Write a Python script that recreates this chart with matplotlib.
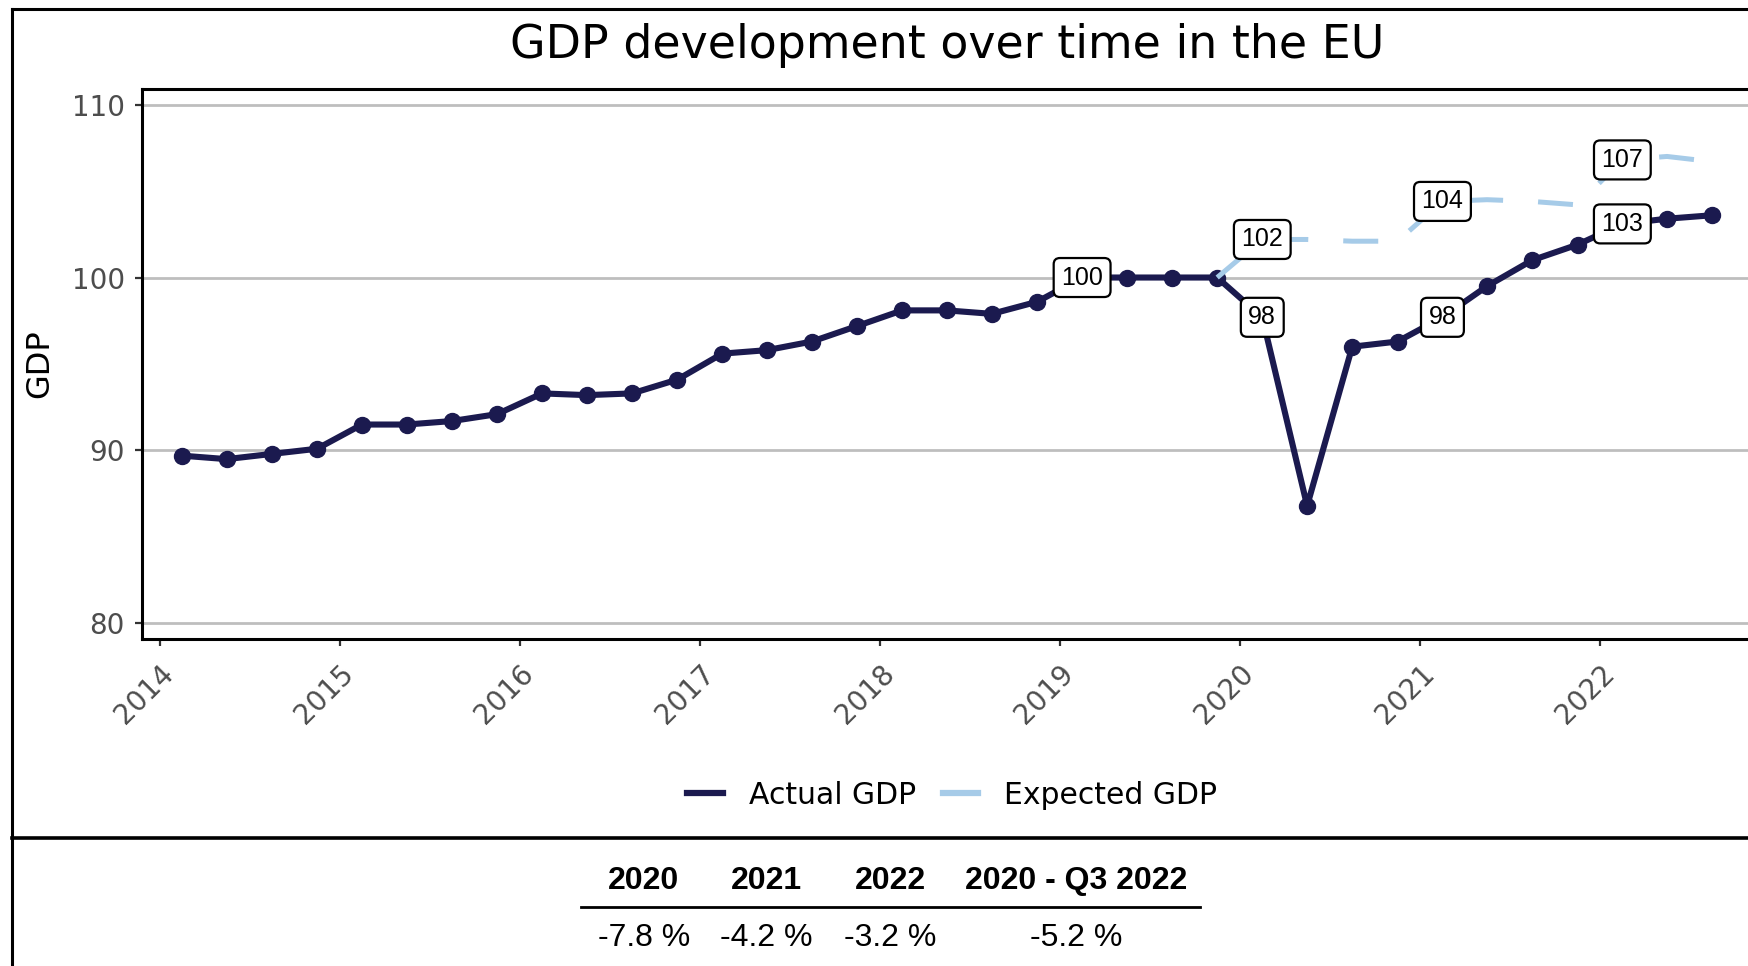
import matplotlib
matplotlib.use('Agg')
import matplotlib.pyplot as plt
import matplotlib.dates as mdates
from matplotlib.lines import Line2D
import pandas as pd

# quarterly GDP index, 2019 = 100
quarters = pd.period_range('2014Q1', '2022Q3', freq='Q')
actual_gdp = [89.7, 89.5, 89.8, 90.1,
              91.5, 91.5, 91.7, 92.1,
              93.3, 93.2, 93.3, 94.1,
              95.6, 95.8, 96.3, 97.2,
              98.1, 98.1, 97.9, 98.6,
              100.0, 100.0, 100.0, 100.0,
              97.7, 86.8, 96.0, 96.3,
              97.7, 99.5, 101.0, 101.9,
              103.1, 103.4, 103.6]
expected_start = '2019Q4'
expected_gdp = [100.0,
                102.2, 102.2, 102.1, 102.1,
                104.4, 104.5, 104.4, 104.2,
                106.8, 107.0, 106.7]
actual_labels = ['2019Q1', '2020Q1', '2021Q1', '2022Q1']
expected_labels = ['2020Q1', '2021Q1', '2022Q1']

table_headers = ['2020', '2021', '2022', '2020 - Q3 2022']
table_values = ['-7.8 %', '-4.2 %', '-3.2 %', '-5.2 %']

NAVY = '#1b1a4f'
LIGHT = '#a6cbe8'
W, H = 1749, 966

def mid(p):
    return p.start_time + (p.end_time - p.start_time) / 2

x_act = [mid(p) for p in quarters]
exp_q = pd.period_range(expected_start, periods=len(expected_gdp), freq='Q')
x_exp = [mid(p) for p in exp_q]

fig = plt.figure(figsize=(W / 100, H / 100), dpi=100)
ax = fig.add_axes([141.6 / W, 1 - 639 / H, (1752.5 - 141.6) / W, (639 - 89) / H])

ax.plot(x_act, actual_gdp, color=NAVY, lw=4.4, marker='o', ms=11.5,
        zorder=3, label='Actual GDP')
ax.plot(x_exp, expected_gdp, color=LIGHT, lw=3.6, ls=(0, (7, 7)),
        zorder=4, label='Expected GDP')

box = dict(boxstyle='round,pad=0.3,rounding_size=0.25', fc='white', ec='black', lw=1.6)
for q in actual_labels:
    i = list(quarters).index(pd.Period(q, freq='Q'))
    ax.text(x_act[i], actual_gdp[i], f'{round(actual_gdp[i])}', ha='center', va='center',
            fontsize=18, family='Liberation Sans', bbox=box, zorder=6)
for q in expected_labels:
    i = list(exp_q).index(pd.Period(q, freq='Q'))
    ax.text(x_exp[i], expected_gdp[i], f'{round(expected_gdp[i])}', ha='center', va='center',
            fontsize=18, family='Liberation Sans', bbox=box, zorder=6)

ax.set_ylim(79.1, 110.9)
ax.set_yticks([80, 90, 100, 110])
ax.set_xlim(pd.Timestamp('2013-11-25'), pd.Timestamp('2022-11-06'))
ax.xaxis.set_major_locator(mdates.YearLocator())
ax.xaxis.set_major_formatter(mdates.DateFormatter('%Y'))
ax.grid(axis='y', color='#bebebe', lw=2)
ax.set_axisbelow(True)
for s in ax.spines.values():
    s.set_linewidth(2.2)
    s.set_color('black')
ax.tick_params(length=5, width=1.6, color='#333333', labelcolor='#4d4d4d', labelsize=20)
ax.tick_params(axis='y', pad=7)
ax.tick_params(axis='x', pad=10)
for lbl in ax.get_xticklabels():
    lbl.set_rotation(45)
    lbl.set_ha('right')
    lbl.set_va('top')
    lbl.set_rotation_mode('anchor')

ax.set_ylabel('GDP', fontsize=23, labelpad=12)
fig.text(947 / W, 1 - 45 / H, 'GDP development over time in the EU', ha='center', va='center',
         fontsize=33)

fig.legend(handles=[Line2D([], [], color=NAVY, lw=4.5), Line2D([], [], color=LIGHT, lw=4.5)],
           labels=['Actual GDP', 'Expected GDP'], loc='center', bbox_to_anchor=(952 / W, 1 - 795 / H),
           ncol=2, frameon=False, fontsize=21.5, handlelength=1.2, columnspacing=0.9, handletextpad=0.85)

# frame around the chart panel and the summary table below it
def px_line(x0, y0, x1, y1, lw):
    fig.add_artist(Line2D([x0 / W, x1 / W], [1 - y0 / H, 1 - y1 / H], color='black', lw=lw,
                          transform=fig.transFigure, solid_capstyle='projecting'))

px_line(12, 9, W + 5, 9, 2.2)
px_line(12, 9, 12, H + 5, 2.2)
px_line(12, 838, W + 5, 838, 2.6)

col_x = [644, 766, 890, 1076]
for cx, head, val in zip(col_x, table_headers, table_values):
    fig.text(cx / W, 1 - 881 / H, head, ha='center', va='center', fontsize=23,
             fontweight='bold', family='Liberation Sans')
    fig.text(cx / W, 1 - 938 / H, val, ha='center', va='center', fontsize=23,
             family='Liberation Sans')
px_line(581, 907, 1200, 907, 2.0)

fig.savefig('out.png', dpi=100)
